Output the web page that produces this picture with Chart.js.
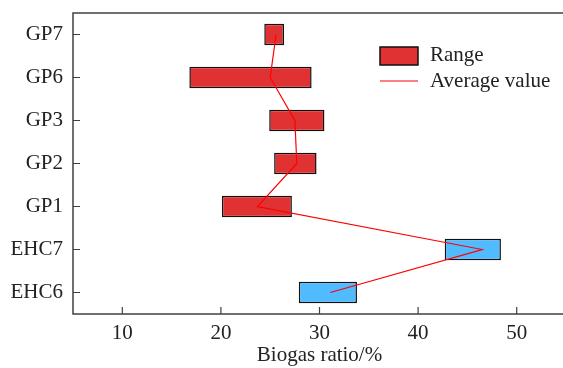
<!DOCTYPE html>
<html>
<head>
<meta charset="utf-8">
<script src="https://cdn.jsdelivr.net/npm/chart.js@4/dist/chart.umd.min.js"></script>
<style>
  html, body { margin: 0; padding: 0; overflow: hidden; background: #fff; }
  #wrap { width: 570px; height: 368px; }
</style>
</head>
<body>
<div id="wrap"><canvas id="chart"></canvas></div>
<script>
const categories = ['GP7', 'GP6', 'GP3', 'GP2', 'GP1', 'EHC7', 'EHC6']
const rangeMin = [24.4, 16.8, 24.9, 25.4, 20.1, 42.7, 27.9]
const rangeMax = [26.4, 29.2, 30.5, 29.7, 27.2, 48.4, 33.8]
const averageValue = [25.6, 25.0, 27.5, 27.7, 23.7, 46.5, 31.1]
const barColors = ['#e03232', '#e03232', '#e03232', '#e03232', '#e03232', '#50bbff', '#50bbff']
const xTicks = [10, 20, 30, 40, 50]

const FONT = '"Liberation Serif", "Times New Roman", serif'
const AXIS = '#404040'

// frame, inward ticks and the legend box
const framePlugin = {
  id: 'frame',
  afterDraw(chart) {
    const { ctx, chartArea: a, scales } = chart
    ctx.save()
    ctx.strokeStyle = AXIS
    ctx.lineWidth = 1.5
    ctx.strokeRect(a.left, a.top, a.right - a.left, a.bottom - a.top)
    ctx.lineWidth = 1.2
    ctx.beginPath()
    scales.x.ticks.forEach((t, i) => {
      const px = scales.x.getPixelForTick(i)
      ctx.moveTo(px, a.bottom)
      ctx.lineTo(px, a.bottom - 7)
    })
    scales.y.ticks.forEach((t, i) => {
      const py = scales.y.getPixelForTick(i)
      ctx.moveTo(a.left, py)
      ctx.lineTo(a.left + 7, py)
    })
    ctx.stroke()

    // legend
    ctx.fillStyle = '#e03232'
    ctx.fillRect(380, 47, 38, 18)
    ctx.strokeStyle = '#111'
    ctx.lineWidth = 1.5
    ctx.strokeRect(380, 47, 38, 18)
    ctx.strokeStyle = '#ff0000'
    ctx.lineWidth = 1.2
    ctx.beginPath()
    ctx.moveTo(380, 81)
    ctx.lineTo(418, 81)
    ctx.stroke()
    ctx.fillStyle = '#222'
    ctx.font = '21px ' + FONT
    ctx.textBaseline = 'middle'
    ctx.fillText('Range', 430, 55)
    ctx.fillText('Average value', 430, 81)
    ctx.restore()
  }
}

const chart = new Chart(document.getElementById('chart'), {
  data: {
    labels: categories,
    datasets: [
      {
        type: 'line',
        label: 'Average value',
        indexAxis: 'y',
        data: averageValue,
        borderColor: '#ff0000',
        borderWidth: 1.2,
        pointRadius: 0,
        tension: 0,
        order: 0,
      },
      {
        type: 'bar',
        label: 'Range',
        data: rangeMin.map((v, i) => [v, rangeMax[i]]),
        backgroundColor: barColors,
        borderColor: '#111',
        borderWidth: 1.5,
        borderSkipped: false,
        barPercentage: 0.5,
        categoryPercentage: 1,
        order: 1,
      },
    ],
  },
  options: {
    indexAxis: 'y',
    responsive: true,
    maintainAspectRatio: false,
    animation: false,
    layout: { padding: { top: 13, right: 4, left: 0, bottom: 0 } },
    plugins: {
      legend: { display: false },
      tooltip: { enabled: false },
    },
    scales: {
      x: {
        type: 'linear',
        min: 5,
        max: 55,
        afterBuildTicks(scale) {
          scale.ticks = xTicks.map((v) => ({ value: v }))
        },
        afterFit(scale) {
          scale.height = 54
          scale.paddingLeft = 0
          scale.paddingRight = 0
        },
        grid: { display: false, tickLength: 0 },
        border: { display: false },
        ticks: {
          color: '#222',
          padding: 7,
          font: { family: FONT, size: 21 },
        },
        title: {
          display: true,
          text: 'Biogas ratio/%',
          color: '#222',
          padding: { top: 0, bottom: 0 },
          font: { family: FONT, size: 21 },
        },
      },
      y: {
        type: 'category',
        offset: true,
        afterFit(scale) {
          scale.width = 73
          scale.paddingTop = 0
          scale.paddingBottom = 0
        },
        grid: { display: false, tickLength: 0 },
        border: { display: false },
        ticks: {
          color: '#222',
          padding: 10,
          font: { family: FONT, size: 21 },
        },
      },
    },
  },
  plugins: [framePlugin],
})
</script>
</body>
</html>
